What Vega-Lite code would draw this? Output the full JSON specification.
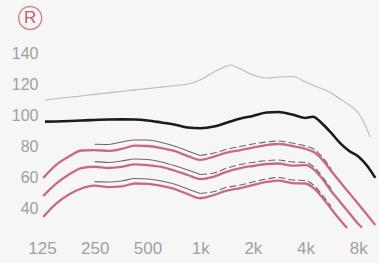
{
  "$schema": "https://vega.github.io/schema/vega-lite/v6.json",
  "width": 337,
  "height": 193.75,
  "autosize": {"type": "none"},
  "padding": {"left": 42, "top": 37.5, "right": 0, "bottom": 31.75},
  "background": "#f6f6f4",
  "config": {"view": {"stroke": null}},
  "datasets": {
    "gray": [
      {"f":130,"v":109.7},{"f":150,"v":110.5},{"f":180,"v":111.5},{"f":210,"v":112.3},{"f":250,"v":113.3},
      {"f":300,"v":114.3},{"f":355,"v":115.2},{"f":425,"v":116.2},{"f":500,"v":117},{"f":600,"v":118},
      {"f":710,"v":118.9},{"f":850,"v":120},{"f":1000,"v":122.6},{"f":1200,"v":127.7},{"f":1400,"v":131.3},
      {"f":1500,"v":132.3},{"f":1700,"v":129.7},{"f":2000,"v":125.8},{"f":2400,"v":123.9},{"f":2800,"v":124.5},
      {"f":3350,"v":124.8},{"f":4000,"v":121.3},{"f":4500,"v":118.7},{"f":5000,"v":116.8},{"f":5600,"v":114.2},
      {"f":6300,"v":110.3},{"f":7100,"v":106.5},{"f":8000,"v":101.3},{"f":8750,"v":93.5},{"f":9340,"v":85.8}
    ],
    "black": [
      {"f":130,"v":95.7},{"f":150,"v":95.8},{"f":180,"v":96.1},{"f":210,"v":96.5},{"f":250,"v":96.8},
      {"f":300,"v":97.1},{"f":355,"v":97.2},{"f":425,"v":97.1},{"f":500,"v":96.5},{"f":600,"v":95.2},
      {"f":710,"v":93.9},{"f":850,"v":91.9},{"f":1000,"v":91.5},{"f":1200,"v":92.6},{"f":1400,"v":94.8},
      {"f":1700,"v":97.7},{"f":2000,"v":99.4},{"f":2400,"v":101.6},{"f":2800,"v":101.9},{"f":3350,"v":100.3},
      {"f":4000,"v":98.1},{"f":4400,"v":98.9},{"f":5000,"v":94.2},{"f":5600,"v":88.4},{"f":6300,"v":81.9},
      {"f":7100,"v":76.8},{"f":8000,"v":73.2},{"f":9000,"v":67.1},{"f":10000,"v":59.4}
    ],
    "pink": [
      {"s":"p1","f":127,"v":59.4},{"s":"p1","f":150,"v":67.7},{"s":"p1","f":180,"v":73.5},{"s":"p1","f":210,"v":77.1},
      {"s":"p1","f":250,"v":77.4},{"s":"p1","f":300,"v":76.8},{"s":"p1","f":355,"v":78.1},{"s":"p1","f":425,"v":80.2},
      {"s":"p1","f":500,"v":80.0},{"s":"p1","f":600,"v":78.7},{"s":"p1","f":710,"v":76.8},{"s":"p1","f":850,"v":73.5},
      {"s":"p1","f":1000,"v":71.0},{"s":"p1","f":1200,"v":73.2},{"s":"p1","f":1400,"v":75.5},{"s":"p1","f":1700,"v":77.4},
      {"s":"p1","f":2000,"v":79.0},{"s":"p1","f":2400,"v":80.6},{"s":"p1","f":2800,"v":81.3},{"s":"p1","f":3350,"v":80.0},
      {"s":"p1","f":4000,"v":78.1},{"s":"p1","f":4500,"v":75.8},{"s":"p1","f":5000,"v":71.0},{"s":"p1","f":5600,"v":63.9},
      {"s":"p1","f":6300,"v":56.8},{"s":"p1","f":7100,"v":49.7},{"s":"p1","f":8000,"v":42.6},{"s":"p1","f":9000,"v":35.5},
      {"s":"p1","f":10000,"v":29.0},
      {"s":"p2","f":127,"v":47.7},{"s":"p2","f":150,"v":55.5},{"s":"p2","f":180,"v":61.9},{"s":"p2","f":210,"v":65.8},
      {"s":"p2","f":250,"v":66.6},{"s":"p2","f":300,"v":65.8},{"s":"p2","f":355,"v":66.5},{"s":"p2","f":425,"v":68.2},
      {"s":"p2","f":500,"v":67.7},{"s":"p2","f":600,"v":66.5},{"s":"p2","f":710,"v":64.2},{"s":"p2","f":850,"v":61.3},
      {"s":"p2","f":1000,"v":58.7},{"s":"p2","f":1200,"v":60.3},{"s":"p2","f":1400,"v":63.2},{"s":"p2","f":1700,"v":65.8},
      {"s":"p2","f":2000,"v":67.1},{"s":"p2","f":2400,"v":68.4},{"s":"p2","f":2800,"v":68.7},{"s":"p2","f":3350,"v":67.4},
      {"s":"p2","f":4000,"v":67.7},{"s":"p2","f":4500,"v":64.5},{"s":"p2","f":5000,"v":58.7},{"s":"p2","f":5600,"v":51.0},
      {"s":"p2","f":6300,"v":43.9},{"s":"p2","f":7100,"v":36.8},{"s":"p2","f":8000,"v":29.7},{"s":"p2","f":8400,"v":27.4},
      {"s":"p3","f":127,"v":34.2},{"s":"p3","f":150,"v":42.6},{"s":"p3","f":180,"v":49.0},{"s":"p3","f":210,"v":52.6},
      {"s":"p3","f":250,"v":54.4},{"s":"p3","f":300,"v":53.5},{"s":"p3","f":355,"v":53.9},{"s":"p3","f":425,"v":55.8},
      {"s":"p3","f":500,"v":55.5},{"s":"p3","f":600,"v":54.2},{"s":"p3","f":710,"v":52.3},{"s":"p3","f":850,"v":49.0},
      {"s":"p3","f":1000,"v":46.3},{"s":"p3","f":1200,"v":48.4},{"s":"p3","f":1400,"v":51.0},{"s":"p3","f":1700,"v":52.9},
      {"s":"p3","f":2000,"v":54.8},{"s":"p3","f":2400,"v":56.8},{"s":"p3","f":2800,"v":57.7},{"s":"p3","f":3350,"v":56.1},
      {"s":"p3","f":4000,"v":55.8},{"s":"p3","f":4500,"v":52.3},{"s":"p3","f":5000,"v":46.5},{"s":"p3","f":5600,"v":39.4},
      {"s":"p3","f":6300,"v":32.3},{"s":"p3","f":6900,"v":27.1}
    ],
    "darkSolid": [
      {"s":"d1","f":250,"v":81.1},{"s":"d1","f":300,"v":81.0},{"s":"d1","f":355,"v":82.6},{"s":"d1","f":425,"v":83.9},
      {"s":"d1","f":500,"v":83.9},{"s":"d1","f":600,"v":82.3},{"s":"d1","f":710,"v":80.0},{"s":"d1","f":850,"v":76.8},
      {"s":"d1","f":1000,"v":73.9},
      {"s":"d2","f":250,"v":69.9},{"s":"d2","f":300,"v":69.4},{"s":"d2","f":355,"v":70.3},{"s":"d2","f":425,"v":71.6},
      {"s":"d2","f":500,"v":71.3},{"s":"d2","f":600,"v":69.7},{"s":"d2","f":710,"v":67.4},{"s":"d2","f":850,"v":64.5},
      {"s":"d2","f":1000,"v":61.6},
      {"s":"d3","f":250,"v":57.0},{"s":"d3","f":300,"v":56.8},{"s":"d3","f":355,"v":57.4},{"s":"d3","f":425,"v":59.0},
      {"s":"d3","f":500,"v":58.7},{"s":"d3","f":600,"v":57.4},{"s":"d3","f":710,"v":55.5},{"s":"d3","f":850,"v":52.3},
      {"s":"d3","f":1000,"v":49.4}
    ],
    "darkDashed": [
      {"s":"d1","f":1000,"v":73.9},{"s":"d1","f":1200,"v":75.5},{"s":"d1","f":1400,"v":77.7},{"s":"d1","f":1700,"v":79.7},
      {"s":"d1","f":2000,"v":81.3},{"s":"d1","f":2400,"v":82.6},{"s":"d1","f":2800,"v":83.2},{"s":"d1","f":3350,"v":81.9},
      {"s":"d1","f":4000,"v":80.0},{"s":"d1","f":4500,"v":77.7},{"s":"d1","f":5000,"v":72.6},{"s":"d1","f":5600,"v":65.2},
      {"s":"d2","f":1000,"v":61.6},{"s":"d2","f":1200,"v":62.6},{"s":"d2","f":1400,"v":65.5},{"s":"d2","f":1700,"v":68.1},
      {"s":"d2","f":2000,"v":69.4},{"s":"d2","f":2400,"v":70.6},{"s":"d2","f":2800,"v":71.0},{"s":"d2","f":3350,"v":69.7},
      {"s":"d2","f":4000,"v":69.4},{"s":"d2","f":4500,"v":66.1},{"s":"d2","f":5000,"v":60.0},{"s":"d2","f":5600,"v":52.6},
      {"s":"d3","f":1000,"v":49.4},{"s":"d3","f":1200,"v":50.6},{"s":"d3","f":1400,"v":53.2},{"s":"d3","f":1700,"v":54.8},
      {"s":"d3","f":2000,"v":56.8},{"s":"d3","f":2400,"v":58.7},{"s":"d3","f":2800,"v":59.7},{"s":"d3","f":3350,"v":58.1},
      {"s":"d3","f":4000,"v":57.7},{"s":"d3","f":4500,"v":54.2},{"s":"d3","f":5000,"v":48.1},{"s":"d3","f":5600,"v":41.0}
    ],
    "badge": [{"f":107,"v":162.6,"t":"R"}]
  },
  "encoding": {
    "x": {
      "field": "f", "type": "quantitative",
      "scale": {"type": "log", "base": 2, "domain": [125, 10500], "nice": false},
      "axis": {
        "title": null, "grid": false, "domain": false, "ticks": false, "tickSize": 0,
        "values": [125, 250, 500, 1000, 2000, 4000, 8000],
        "labelExpr": "datum.value >= 1000 ? (datum.value / 1000) + 'k' : '' + datum.value",
        "labelFont": "Liberation Sans", "labelFontSize": 17, "labelColor": "#a0a0a0",
        "labelBaseline": "middle", "labelPadding": 17.5, "labelFlush": false, "labelOverlap": false
      }
    },
    "y": {
      "field": "v", "type": "quantitative",
      "scale": {"domain": [25, 150], "nice": false, "zero": false},
      "axis": {
        "title": null, "grid": false, "domain": false, "ticks": false, "tickSize": 0,
        "values": [40, 60, 80, 100, 120, 140],
        "labelFont": "Liberation Sans", "labelFontSize": 16, "labelColor": "#a0a0a0",
        "labelPadding": 4, "labelOverlap": false
      }
    }
  },
  "layer": [
    {"data": {"name": "gray"}, "mark": {"type": "line", "color": "#bababa", "strokeWidth": 1.1, "interpolate": "monotone"}},
    {"data": {"name": "black"}, "mark": {"type": "line", "color": "#1e1a1a", "strokeWidth": 2.6, "interpolate": "monotone"}},
    {"data": {"name": "pink"}, "mark": {"type": "line", "color": "#c86a86", "strokeWidth": 2.3, "interpolate": "monotone"},
     "encoding": {"detail": {"field": "s"}}},
    {"data": {"name": "darkSolid"}, "mark": {"type": "line", "color": "#76636d", "strokeWidth": 1.1, "interpolate": "monotone"},
     "encoding": {"detail": {"field": "s"}}},
    {"data": {"name": "darkDashed"}, "mark": {"type": "line", "color": "#76636d", "strokeWidth": 1.1, "strokeDash": [7, 3], "interpolate": "monotone"},
     "encoding": {"detail": {"field": "s"}}},
    {"data": {"name": "badge"}, "mark": {"type": "point", "shape": "circle", "size": 529, "filled": false, "stroke": "#c45a72", "strokeWidth": 1.5, "clip": false}},
    {"data": {"name": "badge"}, "mark": {"type": "text", "color": "#c45a72", "font": "Liberation Sans", "fontSize": 17, "baseline": "middle", "align": "center", "clip": false},
     "encoding": {"text": {"field": "t"}}}
  ]
}
